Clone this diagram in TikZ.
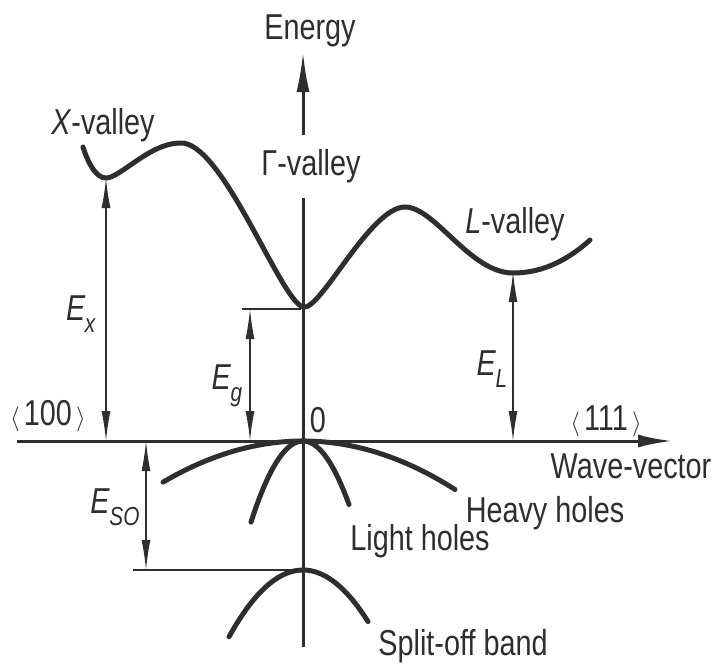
\documentclass[tikz,border=0pt]{standalone}
\usepackage{fontspec}
\setmainfont{Liberation Sans}[FakeStretch=0.8]
\usetikzlibrary{arrows.meta}
\definecolor{ink}{HTML}{2E2E2E}
\newcommand\Esym[1]{\textit{E}\kern-0.5pt\raisebox{-0.32em}{\fontsize{26}{26}\selectfont\textit{#1}}}
\begin{document}
\begin{tikzpicture}[x=1pt,y=-1pt, color=ink,
  lbl/.style={inner sep=0pt, text=ink, font=\fontsize{36}{40}\selectfont},
  band/.style={draw=ink, line width=5pt, line cap=round},
  axisline/.style={draw=ink, line width=3pt},
  dimline/.style={draw=ink, line width=1.5pt, {Latex[length=30pt,width=9pt]}-{Latex[length=30pt,width=9pt]}},
  tickline/.style={draw=ink, line width=1.5pt}]
\useasboundingbox (0,0) rectangle (718,667);

% coordinates
\coordinate (vbot) at (303,647);
\coordinate (vtop) at (303,52);
\coordinate (hleft) at (17,441);
\coordinate (hright) at (672,441);
\coordinate (Xmin) at (106,178);
\coordinate (Xbase) at (106,441);
\coordinate (Gmin) at (303,307);
\coordinate (gtick) at (242,309);
\coordinate (gend) at (301,309);
\coordinate (gtop) at (250,309);
\coordinate (gbase) at (250,441);
\coordinate (Lmin) at (513,272);
\coordinate (Lbase) at (513,441);
\coordinate (sotop) at (146,441);
\coordinate (sobot) at (146,570);
\coordinate (sotick) at (133,570);
\coordinate (SOpeak) at (303,570);

% axes
\draw[axisline, -{Latex[length=40pt,width=13pt]}] (vbot) -- (vtop);
\draw[axisline, -{Latex[length=34pt,width=13pt]}] (hleft) -- (hright);

% gamma label covering the axis
\node[lbl, fill=white, minimum height=63pt, inner xsep=2pt] (gval) at (311,166) {Γ-valley};

% conduction band
\draw[band] (83,147) .. controls (88,163) and (96,178) .. (Xmin)
  .. controls (120,178) and (150,143) .. (180,143)
  .. controls (222,140) and (280,300) .. (Gmin)
  .. controls (320,312) and (370,207) .. (405,207)
  .. controls (435,207) and (470,273) .. (513,273)
  .. controls (545,273) and (570,258) .. (590,240);

% valence bands
\draw[band] plot[domain=-140:152, samples=50] ({303+\x},{441+21*(\x/100)*(\x/100)});
\draw[band] plot[domain=-52:46, samples=40] ({303+\x},{441+300*(\x/100)*(\x/100)});
\draw[band] plot[domain=-74:65, samples=40] ({303+\x},{570+122*(\x/100)*(\x/100)});

% dimension lines
\draw[dimline] (Xbase) -- (Xmin);
\draw[tickline] (gtick) -- (gend);
\draw[dimline] (gbase) -- (gtop);
\draw[dimline] (Lbase) -- (Lmin);
\draw[tickline] (sotick) -- (SOpeak);
\draw[dimline] (sotop) -- (sobot);

% labels
\node[lbl] (energy) at (310,31) {Energy};
\node[lbl] (xval) at (103,125) {\textit{X}-valley};
\node[lbl] (lval) at (515,224) {\textit{L}-valley};
\node[lbl] (ex) at (81,314) {\Esym{x}};
\node[lbl] (eg) at (227,386) {\Esym{g}};
\node[lbl] (el) at (492,369) {\Esym{L}};
\node[lbl] (eso) at (115,507) {\Esym{SO}};
\node[lbl] (k100) at (48,416) {$\langle\,$100$\,\rangle$};
\node[lbl] (zero) at (318,420) {0};
\node[lbl] (k111) at (606,421) {$\langle\,$111$\,\rangle$};
\node[lbl] (wave) at (631,466) {Wave-vector};
\node[lbl] (heavy) at (545,513) {Heavy holes};
\node[lbl] (light) at (420,541) {Light holes};
\node[lbl] (split) at (463,646) {Split-off band};
\end{tikzpicture}
\end{document}
